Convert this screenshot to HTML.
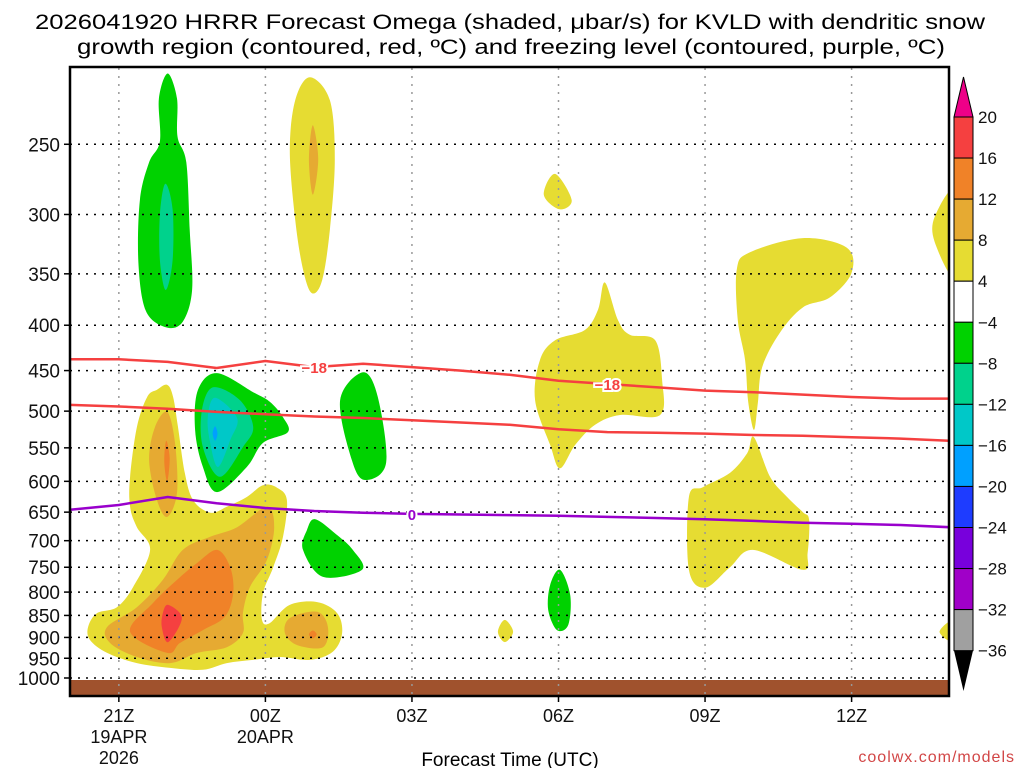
<!DOCTYPE html>
<html><head><meta charset="utf-8">
<style>
html,body{margin:0;padding:0;background:#fff;}
svg{display:block;font-family:"Liberation Sans",sans-serif;}
</style></head>
<body>
<svg id="chart" width="1024" height="768" viewBox="0 0 1024 768">
<text x="510" y="29" font-size="21" text-anchor="middle" textLength="950" lengthAdjust="spacingAndGlyphs">2026041920 HRRR Forecast Omega (shaded, μbar/s) for KVLD with dendritic snow</text>
<text x="511" y="54" font-size="21" text-anchor="middle" textLength="868" lengthAdjust="spacingAndGlyphs">growth region (contoured, red, ºC) and freezing level (contoured, purple, ºC)</text>
<clipPath id="plotclip"><rect x="70" y="67" width="879" height="629"/></clipPath>
<g id="fills" clip-path="url(#plotclip)"></g>
<g id="grid"></g>
<g id="lines" clip-path="url(#plotclip)"></g>
<rect x="70" y="67" width="879" height="629" fill="none" stroke="#000" stroke-width="2.5"/>
<g id="yaxis"></g>
<g id="xaxis"></g>
<text x="510" y="766" font-size="19" text-anchor="middle">Forecast Time (UTC)</text>
<text x="1015" y="762" font-size="16" fill="#d24646" text-anchor="end" letter-spacing="1">coolwx.com/models</text>
<g id="cbar"></g>
</svg>
<script>
// ---- data ----
const pressureTicks = [250,300,350,400,450,500,550,600,650,700,750,800,850,900,950,1000];
const timeTickHours = [1,4,7,10,13,16];
const timeTickLabels = [["21Z","19APR","2026"],["00Z","20APR"],["03Z"],["06Z"],["09Z"],["12Z"]];
const lineHours = [0,1,2,3,4,5,6,7,8,9,10,11,12,13,14,15,16,17,18];
const minus18Line = [437,437,440,447,439,446,442,446,450,455,462,466,470,474,476,479,482,484,484];
const minus12Line = [492,494,497,501,504,507,509,512,515,518,524,528,529,530,532,533,535,537,540];
const zeroLine = [646,638,625,635,643,648,651,653,654,655,656,658,660,662,665,668,670,672,676];
const cbarLevels = [20,16,12,8,4,-4,-8,-12,-16,-20,-24,-28,-32,-36];
const cbarColors = ["#f54040","#f08228","#e6aa32","#e6dc32","#ffffff","#00d200","#00d28c","#00c8c8","#00a0ff","#1e3cff","#7800dc","#a000c8","#a0a0a0"];
// blobs: [time hours from 20Z, pressure hPa]
const blobYellowLeft = [[1.99,467],[2.11,482],[2.21,521],[2.35,587],[2.52,630],[2.87,651],[3.21,641],[3.62,625],[3.95,606],[4.24,610],[4.44,630],[4.36,693],[4.16,750],[3.95,802],[3.93,860],[4.09,867],[4.5,827],[5.06,821],[5.47,845],[5.57,890],[5.38,934],[4.91,954],[4.3,947],[3.75,954],[3.21,962],[2.72,979],[2.05,974],[1.37,962],[0.76,937],[0.41,906],[0.37,876],[0.55,845],[0.96,832],[1.29,790],[1.64,717],[1.37,676],[1.23,641],[1.23,593],[1.37,521],[1.58,482],[1.78,473]];
const blobLtOrangeTall = [[1.99,501],[2.15,543],[2.19,618],[1.99,658],[1.78,630],[1.62,568],[1.74,521]];
const blobOrangeTall = [[1.97,540],[2.04,565],[1.99,600],[1.93,570]];
const blobLtOrangeLow = [[4.03,641],[4.18,676],[4.03,736],[3.68,790],[3.54,845],[3.54,890],[3.21,923],[2.6,937],[2.05,962],[1.37,947],[0.82,913],[0.76,876],[1.37,832],[1.9,775],[2.31,717],[2.87,693],[3.42,676]];
const blobOrangeLow = [[3.01,717],[3.28,750],[3.34,802],[3.17,853],[2.72,883],[2.25,913],[1.99,937],[1.23,887],[1.7,823],[2.19,775],[2.6,742]];
const blobRedLow = [[2.01,827],[2.29,856],[2.01,911],[1.88,876],[1.9,845]];
const blobLtOrangeSmall = [[5.06,842],[5.28,876],[5.18,923],[4.65,918],[4.4,890],[4.5,856]];
const blobOrangeDot = [[4.97,884],[5.05,893],[4.97,902],[4.89,893]];
const blobGreenMid = [[3.01,453],[3.75,476],[4.09,488],[4.36,508],[4.46,528],[3.95,543],[3.62,578],[3.01,617],[2.72,578],[2.56,525],[2.62,473]];
const blobTealMid = [[2.93,470],[3.48,486],[3.75,521],[3.54,549],[3.07,593],[2.72,549],[2.7,499]];
const blobCyanMid = [[2.97,483],[3.42,509],[3.28,539],[3.03,578],[2.87,543],[2.82,508]];
const blobBlueDot = [[2.97,520],[3.02,530],[2.97,540],[2.92,530]];
const blobGreenStrip = [[6.0,452],[6.3,482],[6.47,572],[6.04,598],[5.77,568],[5.53,486]];
const blobGreenLow = [[5.02,662],[5.47,690],[5.79,717],[5.98,755],[5.18,769],[4.77,717],[4.85,681]];
const blobGreenTall = [[2.0,208],[2.19,222],[2.2,245],[2.38,262],[2.45,312],[2.5,365],[2.3,397],[1.95,402],[1.55,385],[1.4,340],[1.43,289],[1.62,262],[1.84,248],[1.82,222]];
const blobCyanTall = [[1.95,277],[2.1,296],[2.1,338],[1.96,365],[1.84,338],[1.84,300]];
const blobYellowTop = [[4.91,210],[5.32,223],[5.42,260],[5.32,312],[5.16,356],[4.95,368],[4.77,346],[4.61,304],[4.5,254],[4.61,223]];
const blobOrangeTop = [[4.97,238],[5.08,260],[4.97,285],[4.89,260]];
const blobYellow06Small = [[9.93,270],[10.27,289],[10.02,296],[9.7,285]];
const blobYellowEdgeTop = [[18.1,283],[18.1,351],[17.7,322],[17.7,302]];
const blobYellow06 = [[10.95,358],[11.22,395],[11.46,410],[11.98,416],[12.12,461],[12.08,505],[11.26,505],[10.75,518],[10.34,546],[10.03,580],[9.83,546],[9.52,486],[9.62,438],[9.93,416],[10.54,405],[10.81,384]];
const blobYellow09Up = [[13.65,346],[13.92,331],[15.0,319],[15.9,327],[16.0,349],[15.56,372],[15.0,382],[14.53,408],[14.17,446],[14.08,490],[14.0,525],[13.88,486],[13.82,438],[13.67,395]];
const blobYellow09Low = [[14.0,535],[14.33,593],[14.68,625],[15.0,650],[15.13,663],[15.1,723],[15.0,755],[13.98,717],[13.51,750],[13.0,791],[12.67,755],[12.67,625],[12.96,609],[13.51,587],[13.86,558]];
const blobGreen06 = [[10.03,755],[10.24,806],[10.2,871],[9.97,883],[9.79,838],[9.83,785]];
const blobYellowDot = [[8.9,860],[9.07,887],[8.9,911],[8.76,887]];
const blobYellowEdgeLow = [[18.1,860],[18.1,911],[17.8,887]];

// ---- axes ----
const X0=70, PXH=48.85;
function xs(t){return X0+t*PXH;}
function ys(p){return 678-385*Math.log(1000/p);}
const NS="http://www.w3.org/2000/svg";
function mk(tag,attrs,parent){const e=document.createElementNS(NS,tag);for(const k in attrs)e.setAttribute(k,attrs[k]);parent.appendChild(e);return e;}

function smoothClosed(pts){
  const P=pts.map(d=>[xs(d[0]),ys(d[1])]);const n=P.length;
  let s=`M${P[0][0].toFixed(1)},${P[0][1].toFixed(1)}`;
  for(let i=0;i<n;i++){
    const p0=P[(i-1+n)%n],p1=P[i],p2=P[(i+1)%n],p3=P[(i+2)%n];
    const c1=[p1[0]+(p2[0]-p0[0])/6,p1[1]+(p2[1]-p0[1])/6];
    const c2=[p2[0]-(p3[0]-p1[0])/6,p2[1]-(p3[1]-p1[1])/6];
    s+=`C${c1[0].toFixed(1)},${c1[1].toFixed(1)} ${c2[0].toFixed(1)},${c2[1].toFixed(1)} ${p2[0].toFixed(1)},${p2[1].toFixed(1)}`;
  }
  return s+"Z";
}
const fills=document.getElementById('fills');
function blob(pts,color,name){
  const e=mk('path',{d:smoothClosed(pts),fill:color},fills);
  
  
}
const Y="#e6dc32",LO="#e6aa32",O="#f08228",R="#f54040",G="#00d200",T="#00d28c",C="#00c8c8",B="#00a0ff";
blob(blobYellowLeft,Y,'omega-yellow-left');
blob(blobLtOrangeTall,LO,'omega-ltorange-tall');
blob(blobOrangeTall,O,'omega-orange-tall');
blob(blobLtOrangeLow,LO,'omega-ltorange-low');
blob(blobOrangeLow,O,'omega-orange-low');
blob(blobRedLow,R,'omega-red-low');
blob(blobLtOrangeSmall,LO,'omega-ltorange-small');
blob(blobOrangeDot,O,'omega-orange-dot');
blob(blobGreenMid,G,'omega-green-mid');
blob(blobTealMid,T,'omega-teal-mid');
blob(blobCyanMid,C,'omega-cyan-mid');
blob(blobBlueDot,B,'omega-blue-dot');
blob(blobGreenStrip,G,'omega-green-strip');
blob(blobGreenLow,G,'omega-green-low');
blob(blobGreenTall,G,'omega-green-tall');
blob(blobCyanTall,T,'omega-teal-tall');
blob(blobYellowTop,Y,'omega-yellow-top');
blob(blobOrangeTop,LO,'omega-ltorange-top');
blob(blobYellow06Small,Y,'omega-yellow-06z-small');
blob(blobYellowEdgeTop,Y,'omega-yellow-edge-top');
blob(blobYellow06,Y,'omega-yellow-06z');
blob(blobYellow09Up,Y,'omega-yellow-09z-upper');
blob(blobYellow09Low,Y,'omega-yellow-09z-lower');
blob(blobGreen06,G,'omega-green-06z');
blob(blobYellowDot,Y,'omega-yellow-dot');
blob(blobYellowEdgeLow,Y,'omega-yellow-edge-low');
const ground=mk('rect',{x:70,y:ys(1000)+2,width:879,height:696-ys(1000)-2,fill:"#a0522d"},fills);



// grid
const grid=document.getElementById('grid');
pressureTicks.forEach(p=>{
  const l=mk('line',{x1:70,x2:949,y1:ys(p),y2:ys(p),stroke:"#000","stroke-width":1.5,"stroke-dasharray":"2,6"},grid);
  
  
});
timeTickHours.forEach(h=>{
  const l=mk('line',{x1:xs(h),x2:xs(h),y1:68,y2:695,stroke:"#999","stroke-width":1.5,"stroke-dasharray":"2,6"},grid);
  
  
});

// contour lines
const lines=document.getElementById('lines');
function polyline(vals,color,name){
  const d=vals.map((v,i)=>(i?'L':'M')+xs(lineHours[i]).toFixed(1)+','+ys(v).toFixed(1)).join('');
  const e=mk('path',{d:d,fill:"none",stroke:color,"stroke-width":2.5,"stroke-linejoin":"round"},lines);
  
  
}
polyline(minus18Line,"#f54040",'contour-minus18');
polyline(minus12Line,"#f54040",'contour-minus12');
polyline(zeroLine,"#9900cc",'freezing-level-line');
function lineLabel(txt,h,vals,color){
  const p=vals[Math.floor(h)]+(vals[Math.ceil(h)]-vals[Math.floor(h)])*(h-Math.floor(h));
  const bg=mk('rect',{x:xs(h)-16,y:ys(p)-8,width:32,height:16,fill:"#fff","fill-opacity":0},lines);
  const t=mk('text',{x:xs(h),y:ys(p)+6,"font-size":15,"font-weight":"bold",fill:color,"text-anchor":"middle",stroke:"#fff","stroke-width":4,"paint-order":"stroke"},lines);
  t.textContent=txt;
  
  
}
lineLabel("−18",5.0,minus18Line,"#f54040");
lineLabel("−18",11.0,minus18Line,"#f54040");
lineLabel("0",7.0,zeroLine,"#9900cc");

// y axis
const ya=document.getElementById('yaxis');
pressureTicks.forEach(p=>{
  mk('line',{x1:64,x2:70,y1:ys(p),y2:ys(p),stroke:"#000","stroke-width":1.5},ya);
  const t=mk('text',{x:60,y:ys(p)+7,"font-size":19,"text-anchor":"end",fill:"#111"},ya);
  t.textContent=p;
  
  
});
// x axis
const xa=document.getElementById('xaxis');
timeTickHours.forEach((h,i)=>{
  mk('line',{x1:xs(h),x2:xs(h),y1:696,y2:702,stroke:"#000","stroke-width":1.5},xa);
  timeTickLabels[i].forEach((s,j)=>{
    const t=mk('text',{x:xs(h),y:722+j*21,"font-size":18,"text-anchor":"middle",fill:"#111"},xa);
    t.textContent=s;
    
    
  });
});

// colorbar
const cb=document.getElementById('cbar');
const CBX=954,CBW=19,CBY0=117,CBH=41.05;
mk('path',{d:`M${CBX},${CBY0}L${CBX+CBW/2},77L${CBX+CBW},${CBY0}Z`,fill:"#ee0088",stroke:"#000","stroke-width":1},cb);
cbarColors.forEach((c,i)=>{
  const r=mk('rect',{x:CBX,y:CBY0+i*CBH,width:CBW,height:CBH,fill:c,stroke:"#000","stroke-width":1},cb);
  
  
});
const yb=CBY0+cbarColors.length*CBH;
mk('path',{d:`M${CBX},${yb}L${CBX+CBW/2},691L${CBX+CBW},${yb}Z`,fill:"#000"},cb);
cbarLevels.forEach((v,i)=>{
  const t=mk('text',{x:978,y:CBY0+i*CBH+6,"font-size":17,fill:"#111"},cb);
  t.textContent=v<0?"−"+Math.abs(v):String(v);
  
  
});
</script>
</body></html>
